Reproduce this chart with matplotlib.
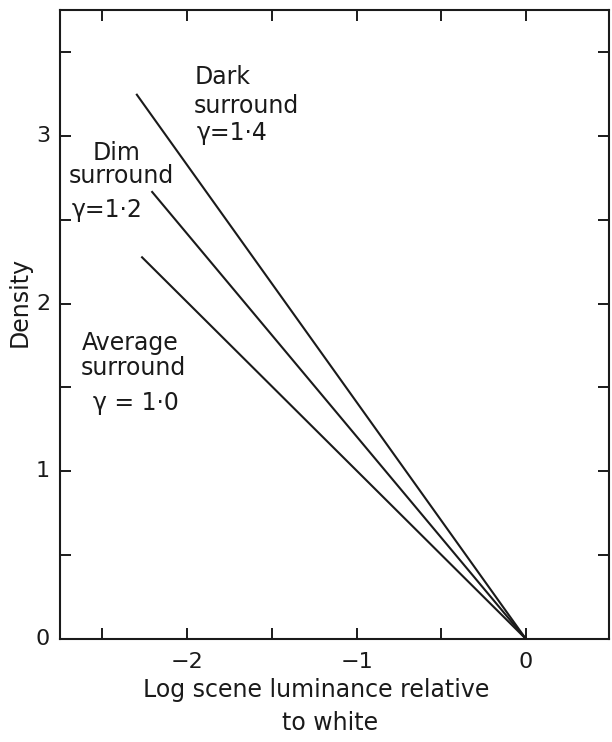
import matplotlib
matplotlib.use("Agg")
import matplotlib.pyplot as plt
from matplotlib.ticker import MultipleLocator

plt.rcParams['font.family'] = ['DejaVu Sans']

# Tone reproduction lines: log scene luminance vs print density
surrounds = ["Dark", "Dim", "Average"]
gammas = ["1·4", "1·2", "1·0"]
log_lum_start = [-2.30, -2.21, -2.27]
density_start = [3.25, 2.67, 2.28]
log_lum_end = [0.0, 0.0, 0.0]
density_end = [0.0, 0.0, 0.0]

x_ticks = [-2, -1, 0]
y_ticks = [0, 1, 2, 3]

INK = "#1a1a1a"
W, H = 612, 742
fig = plt.figure(figsize=(W / 100, H / 100), dpi=100)
ax = fig.add_axes([60 / W, 1 - 639 / H, (609 - 60) / W, (639 - 10) / H])

for x0, y0, x1, y1 in zip(log_lum_start, density_start, log_lum_end, density_end):
    ax.plot([x0, x1], [y0, y1], color=INK, lw=1.5, solid_capstyle="butt")

ax.set_xlim(-2.75, 0.49)
ax.set_ylim(0, 3.75)

ax.xaxis.set_major_locator(MultipleLocator(0.5))
ax.yaxis.set_major_locator(MultipleLocator(0.5))
ax.set_xticklabels([])
ax.set_yticklabels([])
ax.tick_params(which="both", direction="in", length=8, width=1.4,
               top=True, right=True, bottom=True, left=True, color=INK)
for s in ax.spines.values():
    s.set_linewidth(1.5)
    s.set_color(INK)

# numbered ticks only on whole units
for v in x_ticks:
    ax.text(v, -0.14, f"{v}".replace("-", "\u2212"), ha="center", va="center",
            fontsize=16, color=INK, clip_on=False)
for v in y_ticks:
    ax.text(-2.85, v, f"{v}", ha="center", va="center",
            fontsize=16, color=INK, clip_on=False)

fs = 17
fig.text(20 / W, 1 - 302 / H, "Density", rotation=90, ha="center", va="center",
         fontsize=fs, color=INK)
fig.text(316 / W, 1 - 690 / H, "Log scene luminance relative", ha="center",
         va="center", fontsize=fs, color=INK)
fig.text(330 / W, 1 - 723 / H, "to white", ha="center", va="center",
         fontsize=fs, color=INK)

# Dark surround label (left aligned)
fig.text(195 / W, 1 - 77 / H, "Dark", ha="left", va="center", fontsize=fs, color=INK)
fig.text(194 / W, 1 - 106 / H, "surround", ha="left", va="center", fontsize=fs, color=INK)
fig.text(197 / W, 1 - 133 / H, f"γ={gammas[0]}", ha="left", va="center", fontsize=fs, color=INK)
# Dim surround label
fig.text(93 / W, 1 - 153 / H, "Dim", ha="left", va="center", fontsize=fs, color=INK)
fig.text(69 / W, 1 - 176 / H, "surround", ha="left", va="center", fontsize=fs, color=INK)
fig.text(72 / W, 1 - 210 / H, f"γ={gammas[1]}", ha="left", va="center", fontsize=fs, color=INK)
# Average surround label (centred)
fig.text(130 / W, 1 - 343 / H, "Average", ha="center", va="center", fontsize=fs, color=INK)
fig.text(133 / W, 1 - 368 / H, "surround", ha="center", va="center", fontsize=fs, color=INK)
fig.text(136 / W, 1 - 403 / H, f"γ = {gammas[2]}", ha="center", va="center", fontsize=fs, color=INK)

fig.savefig("out.png", dpi=100)
